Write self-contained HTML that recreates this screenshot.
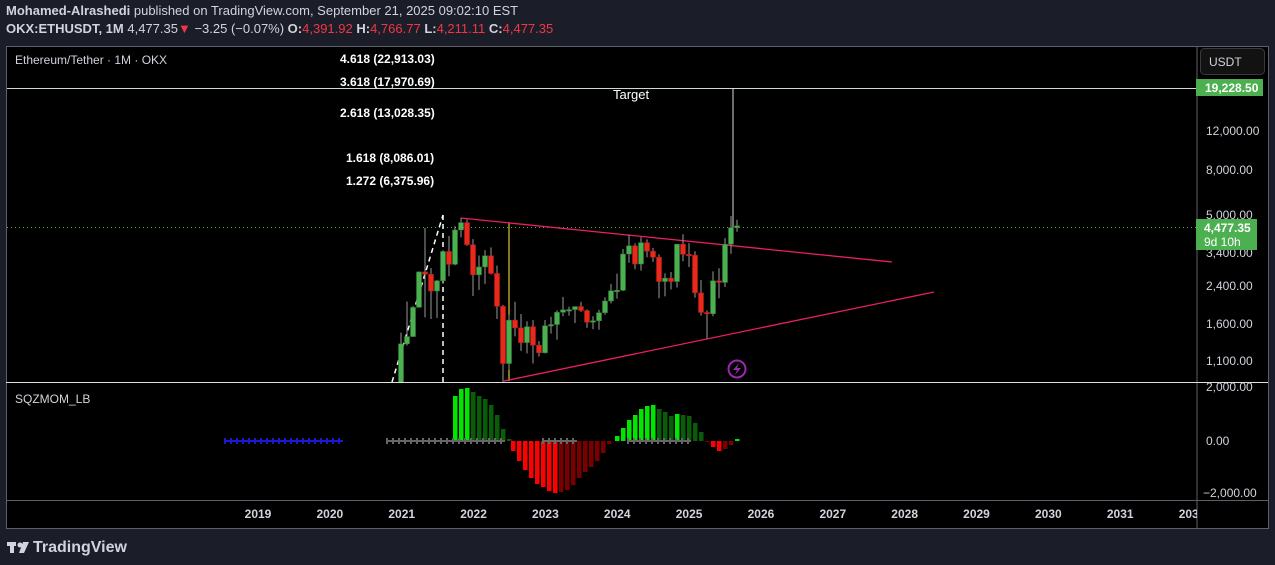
<!DOCTYPE html>
<html><head><meta charset="utf-8"><style>
html,body{margin:0;padding:0;background:#1b1e29;width:1275px;height:565px;overflow:hidden;font-family:"Liberation Sans",sans-serif}
.h{position:absolute;left:6px;color:#d1d4dc;font-size:13px;white-space:nowrap}
.r{color:#f23645}
</style></head><body>
<div class="h" style="top:3px"><b>Mohamed-Alrashedi</b> published on TradingView.com, September 21, 2025 09:02:10 EST</div>
<div class="h" style="top:21px"><b>OKX:ETHUSDT, 1M</b> 4,477.35<span class="r">▼</span> −3.25 (−0.07%) <b>O:</b><span class="r">4,391.92</span> <b>H:</b><span class="r">4,766.77</span> <b>L:</b><span class="r">4,211.11</span> <b>C:</b><span class="r">4,477.35</span></div>
<svg id="s" width="1275" height="565" style="position:absolute;left:0;top:0" xmlns="http://www.w3.org/2000/svg" font-family="Liberation Sans, sans-serif">
<rect x="6.5" y="46.5" width="1262" height="482" fill="#000" stroke="#5d606b"/>
<line x1="1197" y1="47" x2="1197" y2="528" stroke="#5d606b"/>
<line x1="6" y1="500.5" x2="1268" y2="500.5" stroke="#5d606b"/>
<defs><clipPath id="c1"><rect x="7" y="47" width="1190" height="335"/></clipPath><clipPath id="c2"><rect x="7" y="47" width="1190" height="453"/></clipPath><clipPath id="c3"><rect x="7" y="500" width="1190" height="28"/></clipPath></defs>
<g id="main" clip-path="url(#c1)"></g>
<g id="mom" clip-path="url(#c2)"></g>
<line x1="6" y1="382.5" x2="1268" y2="382.5" stroke="#e0e0e0"/>
<text x="15" y="64" fill="#d1d4dc" font-size="12">Ethereum/Tether · 1M · OKX</text>
<text x="15" y="403" fill="#d1d4dc" font-size="12">SQZMOM_LB</text>
<g fill="#fff" font-size="12" font-weight="bold">
<text x="340" y="63">4.618 (22,913.03)</text>
<text x="340" y="86">3.618 (17,970.69)</text>
<text x="340" y="117">2.618 (13,028.35)</text>
<text x="346" y="162">1.618 (8,086.01)</text>
<text x="346" y="185">1.272 (6,375.96)</text>
<text x="613" y="99" font-weight="normal" font-size="13">Target</text>
</g>
<g fill="#d1d4dc" font-size="12">
<text x="1206" y="135">12,000.00</text>
<text x="1206" y="174">8,000.00</text>
<text x="1206" y="219">5,000.00</text>
<text x="1206" y="257">3,400.00</text>
<text x="1206" y="290">2,400.00</text>
<text x="1206" y="328">1,600.00</text>
<text x="1206" y="365">1,100.00</text>
<text x="1206" y="391">2,000.00</text>
<text x="1206" y="445">0.00</text>
<text x="1203" y="497">−2,000.00</text>
</g>
<rect x="1200.5" y="48.5" width="64" height="26" rx="4" fill="#121212" stroke="#3a3a3a"/>
<text x="1209" y="66" fill="#d1d4dc" font-size="12">USDT</text>
<rect x="1196" y="79" width="67" height="17" fill="#4caf50"/>
<text x="1205" y="92" fill="#fff" font-size="12" font-weight="bold">19,228.50</text>
<rect x="1196" y="219" width="61" height="31" fill="#4caf50"/>
<text x="1204" y="232" fill="#fff" font-size="12" font-weight="bold">4,477.35</text>
<text x="1204" y="246" fill="#fff" font-size="12">9d 10h</text>
<g id="yrs" fill="#d1d4dc" font-size="12" font-weight="bold" text-anchor="middle" clip-path="url(#c3)"></g>
<circle cx="737" cy="369" r="8.5" fill="none" stroke="#9c27b0" stroke-width="2"/>
<path d="M739 363 L733 370 L737 370 L735 375 L741 368 L737 368 Z" fill="#9c27b0"/>
<g transform="translate(7,540)"><rect x="0" y="2" width="9" height="4" fill="#d1d4dc"/><rect x="3" y="2" width="4" height="11" fill="#d1d4dc"/><circle cx="13" cy="5" r="2.5" fill="#d1d4dc"/><path d="M16 2h6l-5 11h-5z" fill="#d1d4dc"/></g>
<text x="33" y="552" fill="#d1d4dc" font-size="16" font-weight="bold">TradingView</text>
</svg>
<script>
const NS="http://www.w3.org/2000/svg";
function el(p,t,a){const e=document.createElementNS(NS,t);for(const k in a)e.setAttribute(k,a[k]);p.appendChild(e);return e;}
const Y=p=>131+96.2*(Math.log(12000)-Math.log(p));
const X=i=>401+6*i;
const d=[[737,1476,714,1313],[1313,2040,1290,1416],[1416,1944,1540,1918],[1918,2790,1930,2773],[2773,4380,1730,2706],[2706,2890,1700,2274],[2274,2550,1718,2530],[2530,3470,2450,3430],[3430,4030,2650,3000],[3000,4460,2970,4288],[4288,4870,3970,4630],[4630,4780,3640,3680],
[3680,3900,2160,2690],[2690,3290,2300,2920],[2920,3480,2450,3280],[3280,3580,2700,2730],[2730,2960,1700,1940],[1940,1970,880,1070],[1070,1780,1000,1680],[1680,2030,1420,1550],[1550,1790,1220,1330],[1330,1660,1190,1570],[1570,1680,1070,1295],[1295,1350,1150,1196],
[1196,1680,1190,1585],[1585,1740,1460,1605],[1605,1860,1370,1822],[1822,2140,1750,1870],[1870,1930,1760,1875],[1875,1930,1630,1935],[1935,2030,1830,1857],[1857,1880,1550,1645],[1645,1750,1530,1670],[1670,1870,1520,1815],[1815,2130,1780,2050],[2050,2450,2000,2280],
[2280,2720,2100,2290],[2290,3520,2270,3340],[3340,4090,3050,3640],[3640,3730,2850,3010],[3010,3980,2810,3760],[3760,3890,3230,3440],[3440,3560,3080,3230],[3230,3330,2110,2510],[2510,2730,2150,2600],[2600,2770,2310,2510],[2510,3680,2360,3700],[3700,4100,3100,3330],
[3330,3740,2920,3300],[3300,3440,2120,2230],[2230,2550,1760,1820],[1820,1860,1385,1795],[1795,2790,1750,2530],[2530,2880,2110,2485],[2485,3940,2370,3700],[3700,4950,3350,4390],[4391,4767,4211,4477]];
const m=document.getElementById('main');
el(m,'line',{x1:7,y1:88.5,x2:1197,y2:88.5,stroke:'#c8dcc8'});
el(m,'line',{x1:7,y1:227.5,x2:1197,y2:227.5,stroke:'#4caf50','stroke-dasharray':'1 3'});
el(m,'line',{x1:443,y1:215,x2:443,y2:382,stroke:'#fff','stroke-width':1.5,'stroke-dasharray':'5 4'});
el(m,'line',{x1:392,y1:382,x2:443,y2:215,stroke:'#fff','stroke-width':1.5,'stroke-dasharray':'5 4'});
el(m,'line',{x1:509,y1:222,x2:509,y2:381,stroke:'#ffeb3b'});
el(m,'line',{x1:733,y1:88,x2:733,y2:230,stroke:'#ddd'});
el(m,'line',{x1:461,y1:218,x2:892,y2:262,stroke:'#e91e63','stroke-width':1.3});
el(m,'line',{x1:504,y1:381,x2:934,y2:292,stroke:'#e91e63','stroke-width':1.3});
d.forEach((c,i)=>{const x=X(i),up=c[3]>=c[0];
el(m,'line',{x1:x,y1:Y(c[1]),x2:x,y2:Y(c[2]),stroke:'#9a9a9a'});
const t=Y(Math.max(c[0],c[3])),b=Y(Math.min(c[0],c[3]));
el(m,'rect',{x:x-2.5,y:t,width:5,height:Math.max(1.5,b-t),fill:up?'#4caf50':'#e8291c',stroke:up?'#2e7d32':'#b71c1c','stroke-width':0.5});});
const g=document.getElementById('mom');const Z=441;
const cross=(a,b,col)=>{el(g,'line',{x1:a,y1:Z,x2:b,y2:Z,stroke:col,'stroke-width':2});for(let x=a;x<=b;x+=6)el(g,'line',{x1:x,y1:Z-3,x2:x,y2:Z+3,stroke:col,'stroke-width':2});};
const bars=[[455,45,'#00e600'],[461,52,'#00e600'],[467,53,'#00e600'],[473,49,'#0a5c0a'],[479,45,'#0a5c0a'],[485,42,'#0a5c0a'],[491,36,'#0a5c0a'],[497,26,'#0a5c0a'],[503,12,'#0a5c0a'],[509,2,'#0a5c0a']];
let x=513;[10,20,29,37,43,46,50,52].forEach(v=>{bars.push([x,-v,'#ff0000']);x+=6;});
[51,49,44,37,31,26,20,12,3].forEach(v=>{bars.push([x,-v,'#7a0000']);x+=6;});
x=617;[[5,'#00e600'],[13,'#00e600'],[21,'#00e600'],[26,'#00e600'],[32,'#00e600'],[35,'#00e600'],[36,'#00e600'],[32,'#0a5c0a'],[29,'#0a5c0a'],[25,'#0a5c0a'],[27,'#00e600'],[26,'#0a5c0a'],[25,'#0a5c0a'],[18,'#0a5c0a'],[9,'#0a5c0a'],[-1,'#7a0000'],[-6,'#ff0000'],[-10,'#ff0000'],[-8,'#7a0000'],[-4,'#7a0000'],[2,'#00e600']].forEach(v=>{bars.push([x,v[0],v[1]]);x+=6;});
bars.forEach(b=>{const h=Math.abs(b[1]);el(g,'rect',{x:b[0]-2,y:b[1]>0?Z-h:Z,width:4.5,height:Math.max(h,1),fill:b[2]});});
cross(225,343,'#1a1acc');cross(387,505,'#666');cross(543,577,'#666');cross(628,691,'#666');
const yr=document.getElementById('yrs');
[2019,2020,2021,2022,2023,2024,2025,2026,2027,2028,2029,2030,2031,2032].forEach((v,i)=>{const t=el(yr,'text',{x:258+71.85*i,y:518});t.textContent=v;});
</script>
</body></html>
